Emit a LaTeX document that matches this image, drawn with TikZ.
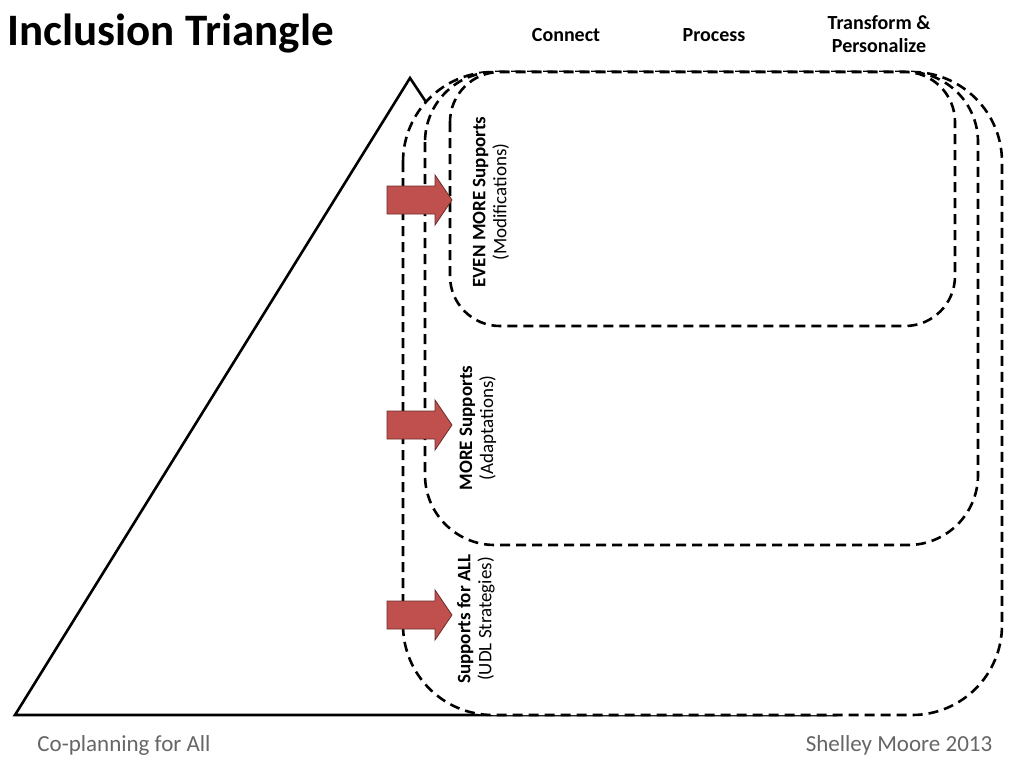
\documentclass[tikz,border=0pt]{standalone}
\usepackage{fontspec}
\setmainfont{Carlito}
\usetikzlibrary{positioning}
\definecolor{arrowred}{RGB}{192,80,77}
\tikzstyle{tier} = [draw=black, line width=2.6pt, dash pattern=on 10pt off 6pt, fill=white]
\tikzstyle{push} = [draw=arrowred!55!black, line width=0.8pt, fill=arrowred]
\tikzstyle{tierlabel} = [rotate=90, align=center, font=\fontsize{19}{21}\selectfont]
\tikzstyle{header} = [font=\bfseries\fontsize{20}{23}\selectfont, align=center]
\tikzstyle{footer} = [font=\fontsize{23}{25}\selectfont, text=black!60]
\newcommand{\blockarrow}[2]{%
  \coordinate (#1) at (#2);
  \draw [push] ([shift={(-32,-14)}]#1) -- ++(48,0) -- ++(0,-11) -- ++(17,25)
     -- ++(-17,25) -- ++(0,-11) -- ++(-48,0) -- cycle;}

\begin{document}
\begin{tikzpicture}[x=1pt, y=-1pt]
        \useasboundingbox (0,0) rectangle (1024,768);
        \node (title) [anchor=west, font=\bfseries\fontsize{45}{48}\selectfont] at (4,34) {Inclusion Triangle};
        \node (connect) [header] at (566,35) {Connect};
        \node (process) [header] at (714,35) {Process};
        \node (transform) [header] at (879,34) {Transform \&\\Personalize};

        \draw [line width=2.6pt] (15,715) -- (410,78) -- (835,715) -- cycle;

        \draw [tier, rounded corners=90pt] (403,72) rectangle (1002,715);
        \draw [tier, rounded corners=70pt] (425,72) rectangle (978,545);
        \draw [tier, rounded corners=50pt] (450,72) rectangle (955,326);
        \draw [line width=2.6pt] (15,715) -- (450,715);

        \blockarrow{pushtop}{419,200}
        \blockarrow{pushmid}{419,425}
        \blockarrow{pushlow}{419,615}

        \node (evenmore) [tierlabel] at (491,202) {\textbf{EVEN MORE Supports}\\(Modifications)};
        \node (more) [tierlabel] at (478,428) {\textbf{MORE Supports}\\(Adaptations)};
        \node (forall) [tierlabel] at (476,619) {\textbf{Supports for ALL}\\(UDL Strategies)};

        \node (coplan) [footer] at (124,745) {Co-planning for All};
        \node (author) [footer] at (899,745) {Shelley Moore 2013};
\end{tikzpicture}
\end{document}
